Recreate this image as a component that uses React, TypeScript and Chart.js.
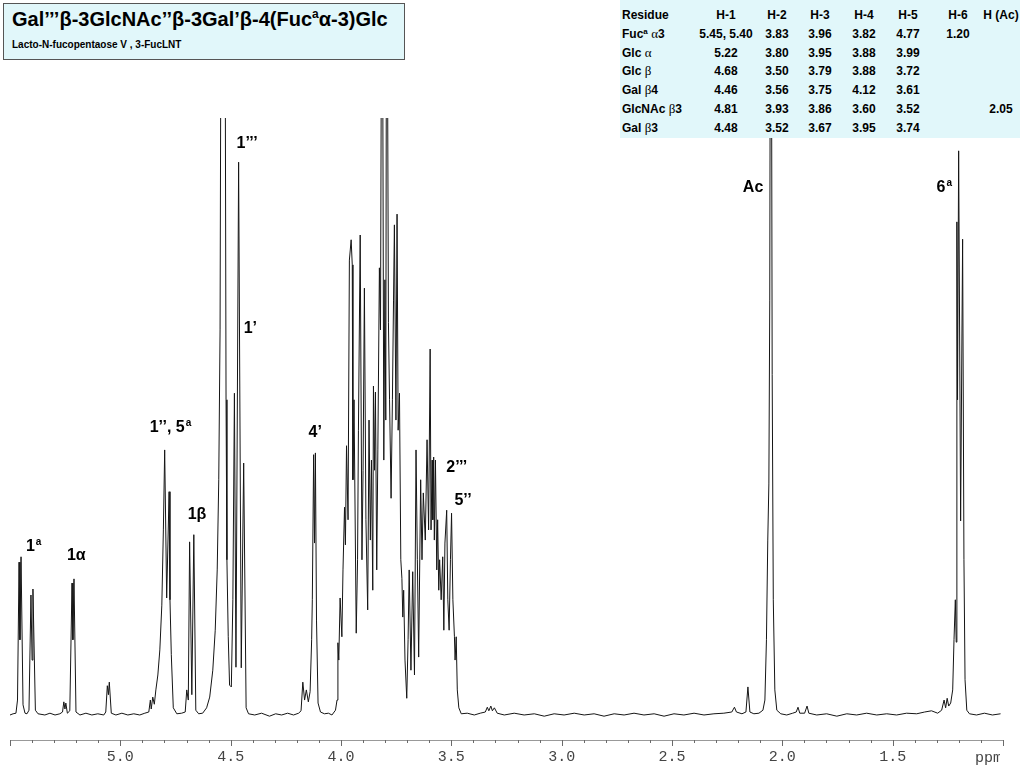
import React, { useEffect, useRef } from "react";
import { Chart, registerables } from "chart.js";

Chart.register(...registerables);

// ---- spectrum vertices (chemical shift, relative intensity) ----
const specPpm = [
  5.500, 5.486, 5.473, 5.466, 5.459, 5.455, 5.450, 5.441, 5.432, 5.423,
  5.414, 5.405, 5.400, 5.396, 5.385, 5.373, 5.342, 5.319, 5.296, 5.274,
  5.262, 5.256, 5.251, 5.247, 5.240, 5.229, 5.219, 5.215, 5.210, 5.201,
  5.183, 5.156, 5.129, 5.102, 5.075, 5.066, 5.059, 5.054, 5.050, 5.041,
  5.020, 4.993, 4.966, 4.939, 4.912, 4.889, 4.871, 4.864, 4.860, 4.853,
  4.846, 4.839, 4.830, 4.821, 4.812, 4.805, 4.799, 4.790, 4.779, 4.775,
  4.769, 4.760, 4.744, 4.722, 4.706, 4.699, 4.692, 4.686, 4.676, 4.667,
  4.658, 4.645, 4.627, 4.609, 4.595, 4.581, 4.570, 4.561, 4.554, 4.548,
  4.542, 4.535, 4.527, 4.521, 4.517, 4.511, 4.505, 4.497, 4.490, 4.483,
  4.476, 4.464, 4.452, 4.441, 4.430, 4.419, 4.391, 4.360, 4.324, 4.296,
  4.269, 4.242, 4.215, 4.192, 4.181, 4.173, 4.165, 4.157, 4.148, 4.140,
  4.133, 4.130, 4.124, 4.120, 4.116, 4.111, 4.104, 4.093, 4.075, 4.057,
  4.041, 4.025, 4.018, 4.014, 4.010, 4.004, 3.996, 3.991, 3.984, 3.980,
  3.975, 3.968, 3.962, 3.954, 3.949, 3.946, 3.941, 3.931, 3.925, 3.921,
  3.913, 3.905, 3.900, 3.894, 3.887, 3.879, 3.873, 3.867, 3.862, 3.856,
  3.853, 3.848, 3.844, 3.838, 3.833, 3.826, 3.821, 3.814, 3.806, 3.801,
  3.797, 3.793, 3.785, 3.780, 3.773, 3.767, 3.762, 3.758, 3.751, 3.746,
  3.741, 3.735, 3.729, 3.724, 3.720, 3.716, 3.710, 3.702, 3.696, 3.691,
  3.683, 3.675, 3.667, 3.660, 3.654, 3.648, 3.639, 3.633, 3.627, 3.618,
  3.610, 3.603, 3.596, 3.592, 3.587, 3.584, 3.580, 3.577, 3.572, 3.566,
  3.562, 3.557, 3.553, 3.546, 3.539, 3.534, 3.529, 3.521, 3.516, 3.510,
  3.504, 3.499, 3.493, 3.486, 3.483, 3.478, 3.473, 3.466, 3.455, 3.428,
  3.396, 3.369, 3.346, 3.337, 3.330, 3.321, 3.314, 3.305, 3.292, 3.260,
  3.215, 3.170, 3.124, 3.079, 3.034, 2.989, 2.943, 2.898, 2.853, 2.808,
  2.762, 2.717, 2.672, 2.627, 2.581, 2.536, 2.491, 2.446, 2.400, 2.355,
  2.310, 2.265, 2.229, 2.217, 2.208, 2.183, 2.165, 2.156, 2.147, 2.129,
  2.106, 2.088, 2.079, 2.072, 2.066, 2.061, 2.057, 2.054, 2.050, 2.046,
  2.041, 2.034, 2.025, 2.007, 1.980, 1.953, 1.937, 1.929, 1.921, 1.899,
  1.888, 1.880, 1.844, 1.799, 1.753, 1.708, 1.663, 1.618, 1.572, 1.527,
  1.482, 1.437, 1.391, 1.355, 1.324, 1.296, 1.278, 1.267, 1.260, 1.253,
  1.246, 1.237, 1.228, 1.222, 1.216, 1.212, 1.209, 1.206, 1.201, 1.192,
  1.183, 1.177, 1.172, 1.164, 1.152, 1.120, 1.084, 1.048, 1.011,
];

const specIntensity = [
  0.0, 0.2, 0.3, 2.5, 25.6, 12.6, 26.5, 1.7, 0.3, 0.2,
  0.8, 20.1, 9.2, 21.1, 0.8, 0.2, 0.0, 0.3, 0.0, 0.2,
  0.5, 2.2, 1.0, 2.0, 0.3, 0.7, 22.1, 12.6, 22.8, 0.5,
  0.0, 0.3, 0.0, 0.2, 0.0, 0.5, 4.9, 3.4, 5.5, 0.3,
  0.0, 0.3, 0.0, 0.2, 0.0, 0.3, 0.5, 2.5, 1.0, 3.0,
  1.8, 4.2, 6.7, 10.9, 18.4, 31.0, 44.4, 19.6, 37.4, 19.3,
  10.1, 1.2, 0.2, 0.3, 0.5, 4.2, 2.5, 29.0, 3.4, 30.2,
  0.8, 0.2, 0.3, 1.2, 3.0, 7.5, 14.2, 24.3, 39.4, 64.5,
  150, 130, 150, 52.8, 26.0, 13.1, 5.0, 4.7, 19.3, 53.9,
  8.0, 92.6, 7.9, 42.2, 1.2, 0.2, 0.0, 0.3, -0.2, 0.2,
  0.0, 0.3, 0.0, 0.3, 0.7, 5.5, 2.5, 4.2, 2.2, 3.9,
  12.6, 19.3, 43.6, 28.8, 43.9, 15.9, 2.0, 0.5, 0.2, 0.3,
  0.0, 0.8, 2.5, 12.1, 9.2, 19.6, 13.1, 24.3, 34.8, 28.5,
  45.1, 32.7, 76.2, 79.6, 75.4, 39.4, 52.8, 13.7, 26.0, 47.7,
  80.4, 26.0, 41.0, 71.5, 32.7, 17.6, 49.4, 29.3, 42.7, 20.9,
  55.1, 41.0, 54.1, 24.3, 44.4, 74.9, 64.5, 150, 42.7, 72.9,
  49.4, 150, 65.7, 52.8, 36.3, 52.8, 69.5, 82.1, 49.4, 83.9,
  47.7, 53.9, 26.0, 22.9, 16.4, 20.9, 9.2, 2.8, 12.6, 24.3,
  7.5, 24.0, 6.7, 44.4, 26.0, 9.7, 39.4, 26.0, 37.2, 29.3,
  46.1, 31.0, 61.3, 31.0, 42.7, 32.7, 43.2, 29.3, 42.7, 24.3,
  32.7, 20.9, 26.0, 19.3, 26.5, 14.2, 28.8, 34.3, 19.3, 14.2,
  26.0, 33.8, 19.3, 13.1, 9.2, 13.1, 4.2, 1.2, 0.2, 0.3,
  0.0, 0.3, 0.5, 1.3, 0.7, 1.5, 0.7, 1.2, 0.3, 0.0,
  0.3, 0.0, 0.2, -0.2, 0.2, 0.0, 0.3, 0.0, 0.2, -0.2,
  0.2, 0.0, 0.3, 0.0, 0.2, -0.2, 0.2, 0.0, 0.3, 0.0,
  0.2, 0.3, 0.5, 1.3, 0.5, 0.2, 0.5, 4.7, 0.5, 0.2,
  0.3, 0.8, 2.5, 12.6, 29.3, 38.7, 69.5, 130, 130, 57.0,
  19.3, 4.2, 0.8, 0.2, 0.0, 0.3, 0.5, 1.3, 0.3, 0.3,
  1.5, 0.3, 0.0, 0.2, -0.2, 0.2, 0.0, 0.3, 0.0, 0.2,
  0.0, 0.3, 0.2, 0.5, 0.7, 0.3, 0.8, 2.5, 1.2, 2.8,
  1.5, 2.0, 4.2, 12.6, 19.3, 12.2, 82.6, 52.8, 94.5, 32.5,
  79.7, 26.0, 5.9, 0.8, 0.2, 0.0, 0.3, 0.0, 0.2,
];

// ---- axis ----
const axisMinPpm = 1.0;
const axisMaxPpm = 5.5;
const minorTickStep = 0.1;
const majorTickValues = [5.0, 4.5, 4.0, 3.5, 3.0, 2.5, 2.0, 1.5];
const majorTickLabels = ["5.0", "4.5", "4.0", "3.5", "3.0", "2.5", "2.0", "1.5"];
const axisUnitLabel = "ppm";
const intensityMin = -4.19;
const intensityMax = 100;

// ---- peak assignments (text, superscript, ppm of left edge, intensity of baseline) ----
const peakLabelText = ["1", "1α", "1’’, 5", "1β", "1’’’", "1’", "4’", "2’’’", "5’’", "Ac", "6"];
const peakLabelSup = ["a", "", "a", "", "", "", "", "", "", "", "a"];
const peakLabelPpm = [5.428, 5.242, 4.867, 4.695, 4.473, 4.441, 4.147, 3.523, 3.486, 2.179, 1.301];
const peakLabelLevel = [27.5, 26.0, 47.4, 32.8, 95.0, 64.0, 46.6, 40.7, 35.2, 87.6, 87.6];

// ---- title ----
const titleParts = ["Gal’’’β-3GlcNAc’’β-3Gal’β-4(Fuc", "a", "α-3)Glc"];
const subtitleText = "Lacto-N-fucopentaose V , 3-FucLNT";

// ---- table of chemical shifts ----
const tableHeaders = ["Residue", "H-1", "H-2", "H-3", "H-4", "H-5", "H-6", "H (Ac)"];
const residueNames = ["Fuc", "Glc", "Glc", "Gal", "GlcNAc", "Gal"];
const residueSup = ["a", "", "", "", "", ""];
const residueGreek = ["α", "α", "β", "β", "β", "β"];
const residueLink = ["3", "", "", "4", "3", "3"];
const shiftH1 = ["5.45, 5.40", "5.22", "4.68", "4.46", "4.81", "4.48"];
const shiftH2 = ["3.83", "3.80", "3.50", "3.56", "3.93", "3.52"];
const shiftH3 = ["3.96", "3.95", "3.79", "3.75", "3.86", "3.67"];
const shiftH4 = ["3.82", "3.88", "3.88", "4.12", "3.60", "3.95"];
const shiftH5 = ["4.77", "3.99", "3.72", "3.61", "3.52", "3.74"];
const shiftH6 = ["1.20", "", "", "", "", ""];
const shiftAc = ["", "", "", "", "2.05", ""];

const SANS = '"Liberation Sans", Arial, sans-serif';
const SERIF = '"Liberation Serif", "Times New Roman", serif';
const MONO = '"Liberation Mono", "Courier New", monospace';

const tickMarkPlugin = {
  id: "tickMarks",
  afterDraw(chart: any) {
    const xs = chart.scales.x;
    const ctx = chart.ctx as CanvasRenderingContext2D;
    const y0 = chart.chartArea.bottom;
    ctx.save();
    ctx.strokeStyle = "#6a6a6a";
    ctx.lineWidth = 1;
    xs.ticks.forEach((t: any) => {
      const px = Math.round(xs.getPixelForValue(t.value)) + 0.5;
      const major = Math.abs(t.value * 2 - Math.round(t.value * 2)) < 1e-6;
      ctx.beginPath();
      ctx.moveTo(px, y0);
      ctx.lineTo(px, y0 + (major ? 6 : 3));
      ctx.stroke();
    });
    ctx.beginPath();
    ctx.rect(0, y0, xs.getPixelForValue(axisMinPpm) - 3, 40);
    ctx.clip();
    ctx.font = "15px " + MONO;
    ctx.fillStyle = "#444";
    ctx.textBaseline = "alphabetic";
    ctx.textAlign = "left";
    ctx.fillText(axisUnitLabel, xs.getPixelForValue(axisMinPpm) - 28, y0 + 22);
    ctx.restore();
  },
};

const peakLabelPlugin = {
  id: "peakLabels",
  afterDatasetsDraw(chart: any) {
    const xs = chart.scales.x;
    const ys = chart.scales.y;
    const ctx = chart.ctx as CanvasRenderingContext2D;
    ctx.save();
    ctx.fillStyle = "#000";
    ctx.textAlign = "left";
    ctx.textBaseline = "alphabetic";
    peakLabelText.forEach((txt, i) => {
      const x = xs.getPixelForValue(peakLabelPpm[i]);
      const y = ys.getPixelForValue(peakLabelLevel[i]);
      ctx.font = "bold 16px " + SANS;
      ctx.fillText(txt, x, y);
      if (peakLabelSup[i]) {
        const w = ctx.measureText(txt).width;
        ctx.font = "bold 10px " + SANS;
        ctx.fillText(peakLabelSup[i], x + w + 1, y - 6);
      }
    });
    ctx.restore();
  },
};

const colCenters = [0, 726, 777, 820, 864, 908, 958, 1001];
const rowCenter = (r: number) => 15 + r * 18.8;

function cellStyle(c: number, r: number): React.CSSProperties {
  const base: React.CSSProperties = {
    position: "absolute",
    top: rowCenter(r) - 7,
    lineHeight: "14px",
    fontSize: 12,
    fontWeight: "bold",
    fontFamily: SANS,
    whiteSpace: "nowrap",
    color: "#000",
  };
  if (c === 0) return { ...base, left: 622 };
  return { ...base, left: colCenters[c], transform: "translateX(-50%)" };
}

export default function App() {
  const ref = useRef<HTMLCanvasElement>(null);

  useEffect(() => {
    const canvas = ref.current;
    if (!canvas) return;
    const chart = new Chart(canvas, {
      type: "line",
      data: {
        datasets: [
          {
            data: specPpm.map((p, i) => ({ x: p, y: specIntensity[i] })),
            borderColor: "#151515",
            borderWidth: 1,
            pointRadius: 0,
            tension: 0,
            fill: false,
            borderJoinStyle: "round",
          },
        ],
      },
      options: {
        animation: false,
        responsive: false,
        maintainAspectRatio: false,
        events: [],
        layout: { padding: { left: 10, right: 21, top: 118, bottom: 0 } },
        plugins: { legend: { display: false }, tooltip: { enabled: false }, title: { display: false } },
        scales: {
          x: {
            type: "linear",
            reverse: true,
            min: axisMinPpm,
            max: axisMaxPpm,
            afterFit: (s: any) => {
              s.height = 28;
            },
            ticks: {
              stepSize: minorTickStep,
              autoSkip: false,
              maxRotation: 0,
              padding: 2,
              color: "#444",
              font: { family: MONO, size: 15 },
              callback: (v: any) => {
                const i = majorTickValues.findIndex((m) => Math.abs(m - Number(v)) < 1e-6);
                return i >= 0 ? majorTickLabels[i] : "";
              },
            },
            grid: { drawOnChartArea: false, drawTicks: true, tickLength: 6, color: "rgba(0,0,0,0)" },
            border: { display: true, color: "#999", width: 1 },
          },
          y: { display: false, min: intensityMin, max: intensityMax },
        },
      } as any,
      plugins: [tickMarkPlugin, peakLabelPlugin],
    });
    return () => chart.destroy();
  }, []);

  const shiftCols = [shiftH1, shiftH2, shiftH3, shiftH4, shiftH5, shiftH6, shiftAc];

  return (
    <div style={{ position: "absolute", left: 0, top: 0, width: 1024, height: 768, background: "#fff", overflow: "hidden" }}>
      <canvas ref={ref} width={1024} height={768} style={{ position: "absolute", left: 0, top: 0, width: 1024, height: 768 }} />

      <div
        style={{
          position: "absolute",
          left: 3,
          top: 3,
          width: 402,
          height: 57,
          boxSizing: "border-box",
          background: "#E1F7FA",
          border: "1.5px solid #555",
          fontFamily: SANS,
          color: "#000",
        }}
      >
        <div style={{ position: "absolute", left: 8, top: 4, fontSize: 20, fontWeight: "bold", whiteSpace: "nowrap", lineHeight: "23px" }}>
          {titleParts[0]}
          <span style={{ fontSize: 12, position: "relative", top: -8 }}>{titleParts[1]}</span>
          {titleParts[2]}
        </div>
        <div style={{ position: "absolute", left: 8, top: 35, fontSize: 10, fontWeight: "bold", whiteSpace: "nowrap", lineHeight: "12px" }}>
          {subtitleText}
        </div>
      </div>

      <div style={{ position: "absolute", left: 620, top: 0, width: 400, height: 138, background: "#E1F7FA" }} />
      {tableHeaders.map((h, c) => (
        <span key={"h" + c} style={cellStyle(c, 0)}>
          {h}
        </span>
      ))}
      {residueNames.map((name, r) => (
        <React.Fragment key={"r" + r}>
          <span style={cellStyle(0, r + 1)}>
            {name}
            {residueSup[r] ? <span style={{ fontSize: 8, position: "relative", top: -4 }}>{residueSup[r]}</span> : null}{" "}
            <span style={{ fontFamily: SERIF, fontWeight: "normal", fontSize: 13 }}>{residueGreek[r]}</span>
            {residueLink[r]}
          </span>
          {shiftCols.map((col, c) =>
            col[r] ? (
              <span key={"c" + c} style={cellStyle(c + 1, r + 1)}>
                {col[r]}
              </span>
            ) : null
          )}
        </React.Fragment>
      ))}
    </div>
  );
}
